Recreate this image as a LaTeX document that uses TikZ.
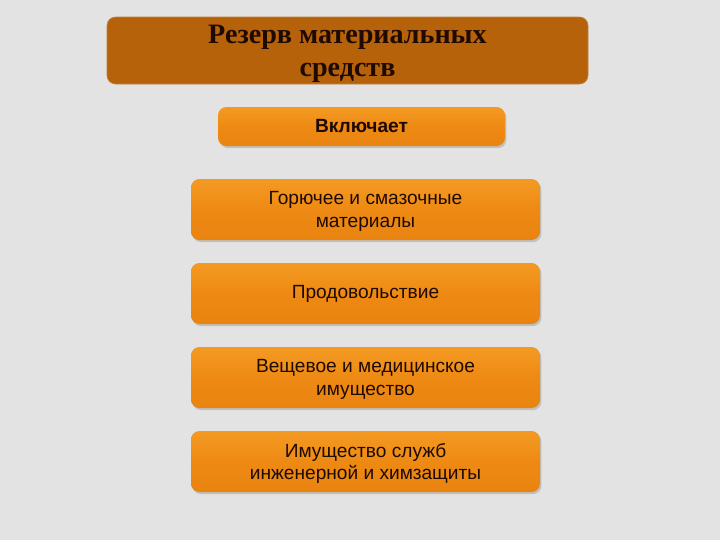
\documentclass[tikz,border=0pt]{standalone}
\usepackage{fontspec}
\setmainfont{Liberation Serif}
\setsansfont{Liberation Sans}
\usetikzlibrary{positioning}
\usetikzlibrary{shadows}
\definecolor{bgGray}{HTML}{E3E3E3}
\definecolor{titleBrown}{HTML}{B6620A}
\definecolor{boxTop}{HTML}{F39A22}
\definecolor{boxMid}{HTML}{EE8A14}
\definecolor{boxBot}{HTML}{E8840F}
\definecolor{inkDark}{HTML}{1E0A00}
\tikzset{x=0.025cm, y=-0.025cm,
titlebox/.style={ % Dark heading box
rounded corners=6pt,
fill=titleBrown,
draw=titleBrown!80!white,
align=center,
text=inkDark,
text depth=0pt,
font=\bfseries\fontsize{20}{23.5}\selectfont},
itembox/.style={ % Orange boxes
rounded corners=6pt,
top color=boxTop, bottom color=boxBot, middle color=boxMid,
draw=none,
drop shadow={shadow xshift=1pt, shadow yshift=-1.5pt, opacity=0.35},
align=center,
inner sep=0pt,
text=inkDark,
font=\sffamily\fontsize{13.6}{15.8}\selectfont},
twoline/.style={text depth=0pt}}

\begin{document}
\begin{tikzpicture}
\fill[bgGray] (0,0) rectangle (720,540);
\useasboundingbox (0,0) rectangle (720,540);
\node[titlebox, minimum width=481*0.025cm, minimum height=67*0.025cm] (title) at (347.5,50.5) {Резерв материальных\\средств};
\node[itembox, minimum width=287*0.025cm, minimum height=39*0.025cm, font=\sffamily\bfseries\fontsize{13.6}{16}\selectfont] (incl) at (361.5,126.5) {Включает};
\node[itembox, twoline, minimum width=349*0.025cm, minimum height=61*0.025cm] (fuel) at (365.5,209.5) {Горючее и смазочные\\материалы};
\node[itembox, minimum width=349*0.025cm, minimum height=61*0.025cm] (food) at (365.5,293.5) {Продовольствие};
\node[itembox, twoline, minimum width=349*0.025cm, minimum height=61*0.025cm] (cloth) at (365.5,377.5) {Вещевое и медицинское\\имущество};
\node[itembox, twoline, minimum width=349*0.025cm, minimum height=61*0.025cm] (eng) at (365.5,461.5) {Имущество служб\\инженерной и химзащиты};
\end{tikzpicture}
\end{document}
